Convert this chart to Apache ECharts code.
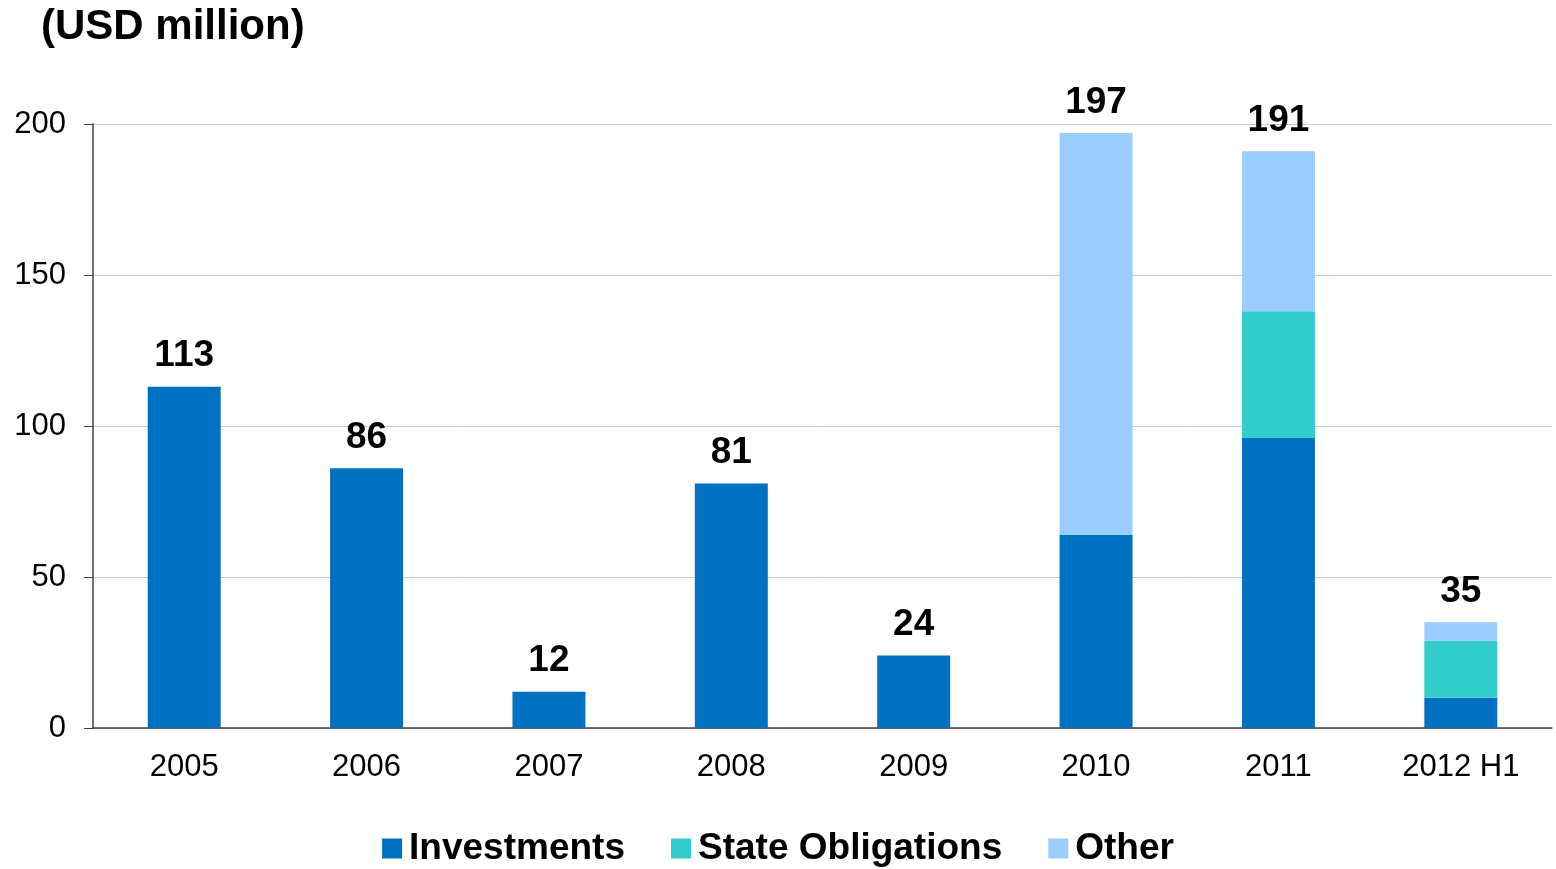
<!DOCTYPE html>
<html>
<head>
<meta charset="utf-8">
<script src="https://cdn.jsdelivr.net/npm/echarts@6/dist/echarts.min.js"></script>
<style>html,body{margin:0;padding:0;background:#fff}#c{width:1556px;height:869px}</style>
</head>
<body>
<div id="c"></div>
<script>
const categories = ['2005','2006','2007','2008','2009','2010','2011','2012 H1'];
const investments = [113, 86, 12, 81, 24, 64, 96, 10];
const stateObligations = [0, 0, 0, 0, 0, 0, 42, 19];
const other = [0, 0, 0, 0, 0, 133, 53, 6];
const yTicks = [0, 50, 100, 150, 200];

const totals = categories.map((c, i) => investments[i] + stateObligations[i] + other[i]);
const font = 'Liberation Sans, Arial, sans-serif';

const chart = echarts.init(document.getElementById('c'));
chart.setOption({
  animation: false,
  title: {
    text: '(USD million)', left: 36, top: 1,
    textStyle: { fontFamily: font, fontSize: 42, fontWeight: 'bold', color: '#000' }
  },
  legend: {
    data: ['Investments', 'State Obligations', 'Other'],
    bottom: -3, left: 'center',
    itemWidth: 20, itemHeight: 20, itemGap: 46,
    icon: 'rect',
    textStyle: { fontFamily: font, fontSize: 37, fontWeight: 'bold', color: '#000', padding: [0, 0, 0, 2] }
  },
  grid: { left: 93, right: 4, top: 124, bottom: 141 },
  xAxis: {
    type: 'category', data: categories,
    axisLine: { lineStyle: { color: '#404040', width: 1.5 } },
    axisTick: { show: false },
    axisLabel: { fontFamily: font, fontSize: 31, color: '#000', margin: 24 }
  },
  yAxis: {
    type: 'value', min: yTicks[0], max: yTicks[yTicks.length - 1], interval: 50,
    axisLine: { show: true, lineStyle: { color: '#404040', width: 1.5 } },
    axisTick: { show: true, length: 9, lineStyle: { color: '#404040' } },
    axisLabel: { fontFamily: font, fontSize: 31, color: '#000', margin: 27 },
    splitLine: { lineStyle: { color: '#c8c8c8', width: 1 } }
  },
  series: [
    { name: 'Investments', type: 'bar', stack: 's', data: investments, barWidth: '40%',
      itemStyle: { color: '#0070C0' } },
    { name: 'State Obligations', type: 'bar', stack: 's', data: stateObligations,
      itemStyle: { color: '#33CCCC' } },
    { name: 'Other', type: 'bar', stack: 's', data: other,
      itemStyle: { color: '#99CCFF' } },
    { name: 'Total', type: 'bar', stack: 's', data: categories.map(() => 0),
      itemStyle: { color: 'transparent' },
      label: {
        show: true, position: 'top', distance: 12,
        formatter: p => String(totals[p.dataIndex]),
        fontFamily: font, fontSize: 37, fontWeight: 'bold', color: '#000'
      } }
  ]
});
</script>
</body>
</html>
